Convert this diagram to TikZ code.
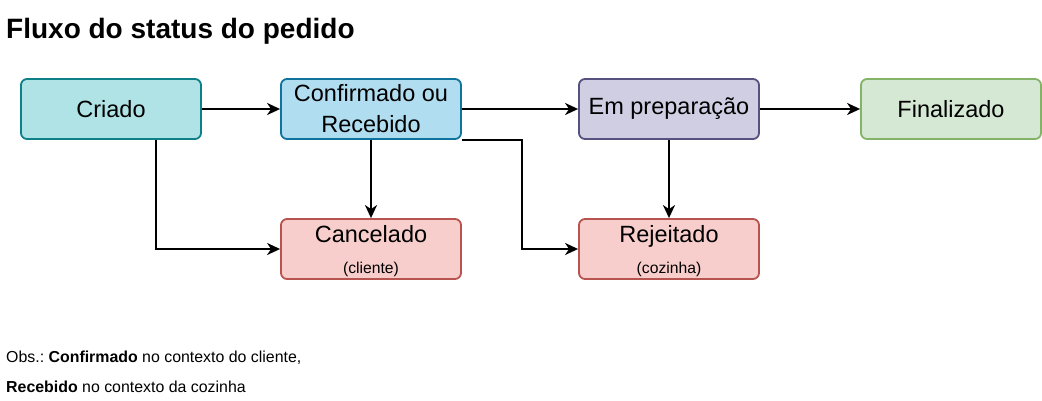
\documentclass[tikz,border=0pt]{standalone}
\usepackage{fontspec}
\setmainfont{Liberation Sans}
\usetikzlibrary{arrows.meta}
\frenchspacing

\definecolor{criFill}{HTML}{B0E3E6}\definecolor{criLine}{HTML}{0E8088}
\definecolor{conFill}{HTML}{B1DDF0}\definecolor{conLine}{HTML}{10739E}
\definecolor{preFill}{HTML}{D0CEE2}\definecolor{preLine}{HTML}{56517E}
\definecolor{finFill}{HTML}{D5E8D4}\definecolor{finLine}{HTML}{82B366}
\definecolor{redFill}{HTML}{F8CECC}\definecolor{redLine}{HTML}{B85450}

\begin{document}
\begin{tikzpicture}[x=1pt,y=-1pt,
	box/.style={draw,line width=1.8pt,rounded corners=6pt,minimum width=180pt,minimum height=60pt,
		inner sep=0pt,align=center,font=\fontsize{23.5}{31}\selectfont},
	small/.style={font=\fontsize{15.9}{19}\selectfont},
	arr/.style={line width=2pt,-{Stealth[length=13pt,width=12pt,inset=4pt]}}]
	\useasboundingbox (0,0) rectangle (1042,400);
	\node(t)[anchor=base west,font=\fontsize{28}{34}\selectfont\bfseries,inner sep=0pt] at (6,38) {Fluxo do status do pedido};
		\node(cri)[box,fill=criFill,draw=criLine] at (111,109) {Criado};
		\node(con)[box,fill=conFill,draw=conLine] at (371,109) {Confirmado ou\\Recebido};
		\node(pre)[box,fill=preFill,draw=preLine] at (669,109) {Em preparação};
		\node(fin)[box,fill=finFill,draw=finLine] at (951,109) {Finalizado};
		\node(can)[box,fill=redFill,draw=redLine] at (371,249) {\rule{0pt}{21pt}Cancelado\\{\fontsize{15.7}{31}\selectfont (cliente)}};
		\node(rej)[box,fill=redFill,draw=redLine] at (669,249) {\rule{0pt}{21pt}Rejeitado\\{\fontsize{15.7}{31}\selectfont (cozinha)}};
		\draw[arr] (cri) -- (con);
		\draw[arr] ([xshift=45pt]cri.south) |- (can);
		\draw[arr] (con) -- (can);
		\draw[arr] (con) -- (pre);
		\draw[arr] (con.south east) -- ++(60,0) |- (rej);
		\draw[arr] (pre) -- (rej);
		\draw[arr] (pre) -- (fin);
	\node(o1)[anchor=base west,small,inner sep=0pt] at (6,362) {Obs.: \textbf{Confirmado} no contexto do cliente,};
	\node(o2)[anchor=base west,small,inner sep=0pt] at (6,392) {\textbf{Recebido} no contexto da cozinha};
\end{tikzpicture}
\end{document}
